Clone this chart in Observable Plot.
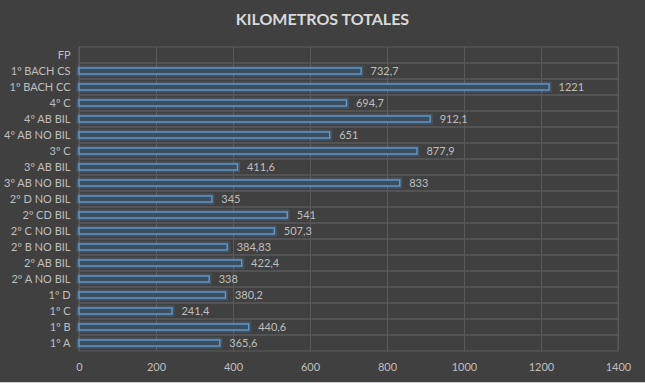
<!DOCTYPE html>
<html><head><meta charset="utf-8">
<script src="https://cdn.jsdelivr.net/npm/d3@7"></script>
<script src="https://cdn.jsdelivr.net/npm/@observablehq/plot@0.6"></script>
<style>
body{margin:0;background:#404040;}
#wrap{width:645px;height:383px;background:#404040;position:relative;overflow:hidden;border-bottom:1px solid #d0d0d0;box-sizing:border-box;}
#title{height:36px;padding-top:9px;box-sizing:border-box;line-height:18px;text-align:center;color:#d9d9d9;font:bold 16px Lato, "Open Sans", sans-serif;}
svg{display:block;}
</style></head>
<body><div id="wrap"><div id="title">KILOMETROS TOTALES</div><div id="chart"></div></div>
<script>
const categories = ["FP","1º BACH CS","1º BACH CC","4º C","4º AB BIL","4º AB NO BIL","3º C","3º AB BIL","3º AB NO BIL","2º D NO BIL","2º CD BIL","2º C NO BIL","2º B NO BIL","2º AB BIL","2º A NO BIL","1º D","1º C","1º B","1º A"];
const values = [null,732.7,1221,694.7,912.1,651,877.9,411.6,833,345,541,507.3,384.83,422.4,338,380.2,241.4,440.6,365.6];
const xTicks = [0,200,400,600,800,1000,1200,1400];

const data = categories.map((c,i)=>({cat:c, v:values[i]}));
const bars = data.filter(d=>d.v!=null);
const fmt = v => String(v).replace(".", ",");

const chart = Plot.plot({
  width:645, height:346,
  marginLeft:79, marginRight:27, marginTop:11, marginBottom:31,
  style:{background:"#404040", color:"#bfbfbf", fontSize:"11px", fontFamily:"Lato, 'Open Sans', sans-serif"},
  x:{domain:[0,1400], ticks:xTicks, label:null, tickSize:0, tickPadding:12, tickFormat:d=>String(d)},
  y:{domain:categories, padding:0, label:null, tickSize:0, tickPadding:9},
  marks:[
    Plot.barX(data,{y:"cat", x1:0, x2:1400, fill:"none", stroke:"#5a5a5a", strokeWidth:1}),
    Plot.ruleX(xTicks,{x:d=>d, stroke:"#5a5a5a", strokeWidth:1}),
    Plot.barX(bars,{y:"cat", x:"v", insetTop:5, insetBottom:5, fill:"none", stroke:"#5b9bd5", strokeOpacity:0.22, strokeWidth:5}),
    Plot.barX(bars,{y:"cat", x:"v", insetTop:5, insetBottom:5, fill:"#3f4c5c", stroke:"#5b9bd5", strokeWidth:1.4}),
    Plot.text(bars,{y:"cat", x:"v", text:d=>fmt(d.v), dx:9, textAnchor:"start", fill:"#bfbfbf", fontSize:11}),
    Plot.axisX({ticks:xTicks, tickSize:0, tickPadding:12, tickFormat:d=>String(d), label:null, fontSize:11})
  ]
});
document.getElementById("chart").appendChild(chart);
</script></body></html>
